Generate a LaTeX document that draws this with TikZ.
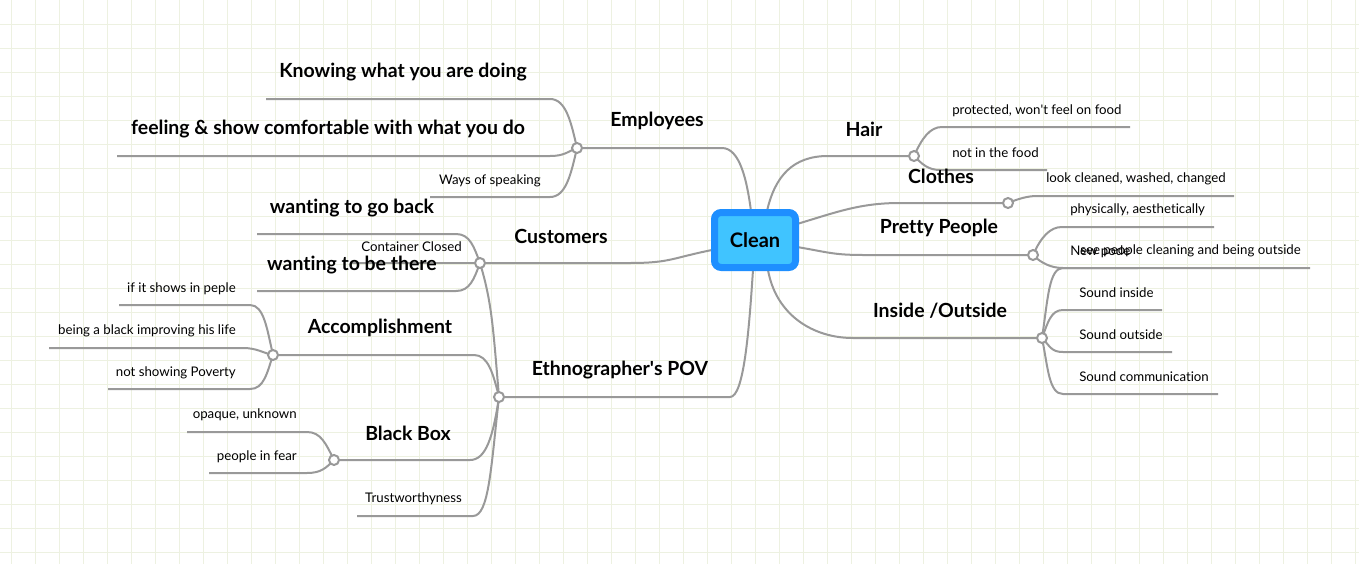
\documentclass[tikz,border=0pt]{standalone}
\usepackage{fontspec}
\setmainfont{Lato}[Ligatures={NoCommon}]
\usepackage{tikz}
\usetikzlibrary{positioning}
\definecolor{gridgreen}{HTML}{EDF1E1}
\definecolor{linkgray}{HTML}{999999}
\definecolor{rootblue}{HTML}{1E8FFF}
\definecolor{rootcyan}{HTML}{40C4FF}

\begin{document}
\begin{tikzpicture}[x=0.75pt, y=-0.75pt,
  gridline/.style={draw=gridgreen, line width=0.75pt},
  root/.style={draw=rootblue, fill=rootcyan, line width=5.25pt, rounded corners=5pt,
    minimum width=60.75pt, minimum height=41.25pt, inner sep=0pt,
    font=\fontsize{15}{17}\selectfont\bfseries},
  topic/.style={font=\fontsize{14.6}{16}\selectfont\bfseries, inner sep=0pt},
  leaf/.style={font=\fontsize{9.95}{11}\selectfont, inner sep=0pt, yshift=-1pt},
  link/.style={draw=linkgray, line width=1.5pt},
  knob/.style={circle, draw=linkgray, fill=white, line width=1.5pt,
    minimum size=7.5pt, inner sep=0pt}
]
  % background and grid
  \useasboundingbox (0,0) rectangle (1359,564);
  \fill[white] (0,0) rectangle (1359,564);
  \foreach \gx in {11,35,...,1355} \draw[gridline] (\gx,0) -- (\gx,564);
  \foreach \gy in {24,48,...,560} \draw[gridline] (0,\gy) -- (1359,\gy);

  % ---- left side: Employees
  \coordinate (empEnd) at (722,148);
  \coordinate (knowL) at (266,99);   \coordinate (knowR) at (550,99);
  \coordinate (feelL) at (117,156);  \coordinate (feelR) at (550,156);
  \coordinate (waysL) at (430,197);  \coordinate (waysR) at (550,197);
  \draw[link] (knowL) -- (knowR) .. controls +(16,0) and +(-6,-26) .. (577,148);
  \draw[link] (feelL) -- (feelR) .. controls +(14,0) and +(-10,4) .. (577,148);
  \draw[link] (waysL) -- (waysR) .. controls +(16,0) and +(-6,26) .. (577,148);
  \draw[link] (577,148) -- (empEnd) .. controls +(18,0) and +(-4,-30) .. (751,211);

  % ---- left side: Customers
  \coordinate (cusEnd) at (630,263);
  \coordinate (backL) at (257,234);  \coordinate (backR) at (456,234);
  \coordinate (closedL) at (352,263);
  \coordinate (thereL) at (257,291); \coordinate (thereR) at (456,291);
  \draw[link] (backL) -- (backR) .. controls +(14,0) and +(-6,-16) .. (480,263);
  \draw[link] (closedL) -- (480,263);
  \draw[link] (thereL) -- (thereR) .. controls +(14,0) and +(-6,16) .. (480,263);
  \draw[link] (480,263) -- (cusEnd) .. controls +(40,0) and +(-40,8) .. (712,250);

  % ---- left side: Ethnographer's POV
  \coordinate (ethEnd) at (730,397);
  \coordinate (accR) at (474,355);
  \coordinate (boxR) at (470,460);
  \coordinate (trustL) at (357,516); \coordinate (trustR) at (473,516);
  \draw[link] (480,263) .. controls +(12,40) and +(-6,-70) .. (499,397);
  \draw[link] (273,355) -- (accR) .. controls +(14,0) and +(-6,-24) .. (499,397);
  \draw[link] (334,460) -- (boxR) .. controls +(16,0) and +(-6,40) .. (499,397);
  \draw[link] (trustL) -- (trustR) .. controls +(16,0) and +(-8,70) .. (499,397);
  \draw[link] (499,397) -- (ethEnd) .. controls +(14,0) and +(-4,60) .. (753,270);

  % Accomplishment leaves
  \coordinate (pepleL) at (119,305);   \coordinate (pepleR) at (250,305);
  \coordinate (blackL) at (49,348);    \coordinate (blackR) at (243,348);
  \coordinate (povL) at (108,389);     \coordinate (povR) at (250,389);
  \draw[link] (pepleL) -- (pepleR) .. controls +(14,0) and +(-6,-26) .. (273,355);
  \draw[link] (blackL) -- (blackR) .. controls +(14,0) and +(-10,-2) .. (273,355);
  \draw[link] (povL) -- (povR) .. controls +(14,0) and +(-6,18) .. (273,355);

  % Black Box leaves
  \coordinate (opaqueL) at (187,432);  \coordinate (opaqueR) at (307,432);
  \coordinate (fearL) at (209,473);    \coordinate (fearR) at (307,473);
  \draw[link] (opaqueL) -- (opaqueR) .. controls +(14,0) and +(-8,-16) .. (334,460);
  \draw[link] (fearL) -- (fearR) .. controls +(14,0) and +(-8,8) .. (334,460);

  % ---- right side
  \coordinate (hairEnd) at (828,156);
  \coordinate (cloEnd) at (900,203);
  \coordinate (preEnd) at (863,255);
  \coordinate (insEnd) at (853,338);
  \draw[link] (767,211) .. controls +(8,-35) and +(-35,0) .. (hairEnd) -- (914,156);
  \draw[link] (797,224) .. controls +(40,-12) and +(-40,0) .. (cloEnd) -- (1008,203);
  \draw[link] (797,247) .. controls +(30,5) and +(-30,0) .. (preEnd) -- (1033,255);
  \draw[link] (768,270) .. controls +(8,45) and +(-40,0) .. (insEnd) -- (1042,338);

  \draw[link] (914,156) .. controls +(8,-18) and +(-12,0) .. (942,127) -- (1130,127);
  \draw[link] (914,156) .. controls +(8,8) and +(-12,0) .. (940,170) -- (1047,170);
  \draw[link] (1008,203) .. controls +(10,-4) and +(-10,0) .. (1037,196) -- (1234,196);
  \draw[link] (1033,255) .. controls +(8,-18) and +(-12,0) .. (1062,227) -- (1214,227);
  \draw[link] (1033,255) .. controls +(8,8) and +(-12,0) .. (1063,268) -- (1310,268);
  \draw[link] (1042,338) .. controls +(6,-40) and +(-14,0) .. (1063,268) -- (1138,268);
  \draw[link] (1042,338) .. controls +(6,-16) and +(-12,0) .. (1063,310) -- (1162,310);
  \draw[link] (1042,338) .. controls +(8,8) and +(-12,0) .. (1063,352) -- (1172,352);
  \draw[link] (1042,338) .. controls +(6,30) and +(-14,0) .. (1063,394) -- (1218,394);

  % knobs
  \node[knob] (kEmp) at (577,148) {};
  \node[knob] (kCus) at (480,263) {};
  \node[knob] (kEth) at (499,397) {};
  \node[knob] (kAcc) at (273,355) {};
  \node[knob] (kBox) at (334,460) {};
  \node[knob] (kHair) at (914,156) {};
  \node[knob] (kClo) at (1008,203) {};
  \node[knob] (kPre) at (1033,255) {};
  \node[knob] (kIns) at (1042,338) {};

  % root
  \node[root] (clean) at (755,240) {Clean};

  % topic labels
  \node[topic] (employees) at (657,121) {Employees};
  \node[topic] (customers) at (561,236) {Customers};
  \node[topic] (ethno) at (620,370) {Ethnographer\textquotesingle s POV};
  \node[topic] (hair) at (864,129) {Hair};
  \node[topic] (clothes) at (941,176) {Clothes};
  \node[topic] (pretty) at (939,228) {Pretty People};
  \node[topic] (inout) at (940,311) {Inside /Outside};
  \node[topic] (knowing) at (403,72) {Knowing what you are doing};
  \node[topic] (feeling) at (328,129) {feeling \& show comfortable with what you do};
  \node[topic] (goback) at (352,208) {wanting to go back};
  \node[topic] (bethere) at (352,265) {wanting to be there};
  \node[topic] (accomp) at (380,328) {Accomplishment};
  \node[topic] (blackbox) at (408,433) {Black Box};

  % leaf labels
  \node[leaf, anchor=east] (ways) at (541,179) {Ways of speaking};
  \node[leaf, anchor=east] (closed) at (462,245) {Container Closed};
  \node[leaf, anchor=east] (peple) at (236,287) {if it shows in peple};
  \node[leaf, anchor=east] (improve) at (236,329) {being a black improving his life};
  \node[leaf, anchor=east] (poverty) at (236,371) {not showing Poverty};
  \node[leaf, anchor=east] (opaque) at (297,413) {opaque, unknown};
  \node[leaf, anchor=east] (fear) at (297,455) {people in fear};
  \node[leaf, anchor=east] (trust) at (462,497) {Trustworthyness};
  \node[leaf, anchor=west] (protect) at (952,109) {protected, won\textquotesingle t feel on food};
  \node[leaf, anchor=west] (notfood) at (952,151) {not in the food};
  \node[leaf, anchor=west] (look) at (1046,177) {look cleaned, washed, changed};
  \node[leaf, anchor=west] (phys) at (1070,208) {physically, aesthetically};
  \node[leaf, anchor=west] (newpode) at (1070,250) {New pode};
  \node[leaf, anchor=west] (seepeople) at (1080,249) {see people cleaning and being outside};
  \node[leaf, anchor=west] (sin) at (1079,291) {Sound inside};
  \node[leaf, anchor=west] (sout) at (1079,333) {Sound outside};
  \node[leaf, anchor=west] (scomm) at (1079,375) {Sound communication};
\end{tikzpicture}
\end{document}
